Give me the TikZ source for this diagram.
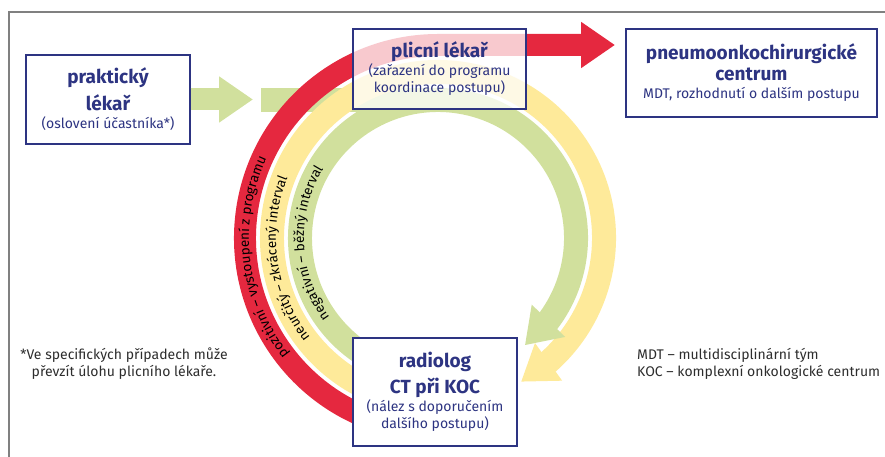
\documentclass[tikz,border=0pt]{standalone}
\usepackage{fontspec}
\setmainfont{Fira Sans}
\usepackage{xcolor}
\usetikzlibrary{calc,positioning,arrows.meta,bending,decorations.text}

\definecolor{navy}{RGB}{45,52,130}
\definecolor{ringred}{RGB}{229,40,63}
\definecolor{ringyellow}{RGB}{254,234,154}
\definecolor{ringgreen}{RGB}{209,224,157}
\definecolor{framegray}{RGB}{128,128,128}
\definecolor{legendgray}{RGB}{45,45,45}

\newcommand{\boxtitle}{\bfseries\fontsize{19}{24}\selectfont}
\newcommand{\boxsub}{\fontsize{14}{17}\selectfont}
\newcommand{\arcfont}{\fontsize{13.5}{15}\selectfont}

\begin{document}
\begin{tikzpicture}[x=1pt,y=1pt,
  box/.style={draw=navy, line width=1.3pt, fill=white, text=navy, align=center, font=\boxsub},
  band/.style={line width=#1, -{Triangle[width=44pt,length=34pt]}},
  arclabel/.style={decorate, decoration={text along path, text align=center, text={|\arcfont|#1}}},
  legend/.style={text=legendgray, font=\boxsub, inner sep=0pt}]

\useasboundingbox (0,0) rectangle (885,457);

% Frame
\draw[framegray, line width=1.5pt] (885,445) -- (9,445) -- (9,0);

% Centre of the rings and free arrow ends
\coordinate (C) at (438,219);
\coordinate (praktip) at (253,357.5);
\coordinate (redtip) at (615,412);

% Boxes (placed first so the arrows can start at them)
\node[box, minimum width=164pt, minimum height=89pt] (prakticky) at (108,357.5)
  {\boxtitle praktický\\[6pt] \boxtitle lékař\\[1pt] (oslovení účastníka*)};

% Green arrow from the GP
\draw[ringgreen, band=22pt] (prakticky.east) -- (praktip);

% Green bar into the ring
\draw[ringgreen, line width=24pt] (261,357) -- (438,357);

% Yellow ring
\draw[ringyellow, band=24pt] (C) ++(260:166) arc[start angle=260, end angle=-60, radius=166];

% Green ring
\draw[ringgreen, band=24pt] (C) ++(260:138) arc[start angle=260, end angle=-51, radius=138];

% Red ring to the surgery centre
\draw[ringred, band=22pt] (C) ++(260:193) arc[start angle=260, end angle=90, radius=193] -- (redtip);

% Labels along the rings
\path[arclabel={pozitivní – vystoupení z programu}]
  (C) ++(226:189) arc[start angle=226, end angle=147, radius=189];
\path[arclabel={neurčitý – zkrácený interval}]
  (C) ++(228:162) arc[start angle=228, end angle=148, radius=162];
\path[arclabel={negativní – běžný interval}]
  (C) ++(223:134) arc[start angle=223, end angle=142, radius=134];

% Boxes on top of the rings
\node[box, fill opacity=0.75, text opacity=1, minimum width=173pt, minimum height=80pt] (plicni) at (439.5,388)
  {\boxtitle plicní lékař\\[1pt] (zařazení do programu\\ koordinace postupu)};
\node[box, minimum width=251pt, minimum height=88pt] (pneumo) at (751.5,384)
  {\boxtitle pneumoonkochirurgické\\[4pt] \boxtitle centrum\\[1pt] MDT, rozhodnutí o dalším postupu};
\node[box, minimum width=164pt, minimum height=108pt] (radiolog) at (435,65)
  {\boxtitle radiolog\\[5pt] \boxtitle CT při KOC\\[1pt] (nález s doporučením\\ dalšího postupu)};

% Notes
\node[legend, align=center] (footnote) at (124,93)
  {*Ve specifických případech může\\ převzít úlohu plicního lékaře.};
\node[legend, align=left, anchor=west] (abbrev) at (637,93)
  {MDT – multidisciplinární tým\\ KOC – komplexní onkologické centrum};

\end{tikzpicture}
\end{document}
